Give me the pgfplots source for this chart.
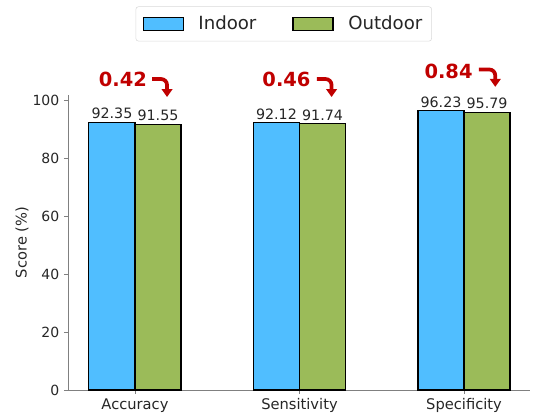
\documentclass[border=0pt]{standalone}
\usepackage{pgfplots}
\pgfplotsset{compat=1.18}
\usepackage{fontspec}
\setmainfont{DejaVu Sans}
\usetikzlibrary{arrows.meta}
\definecolor{indoor}{RGB}{80,190,255}
\definecolor{outdoor}{RGB}{155,187,89}
\definecolor{annot}{RGB}{192,0,0}
\definecolor{spine}{RGB}{128,128,128}
\begin{document}
\begin{tikzpicture}
\useasboundingbox (-51pt,-18pt) rectangle (348.75pt,292.5pt);
\begin{axis}[
  at={(0,0)}, anchor=south west,
  scale only axis, width=346.5pt, height=221.25pt,
  xmin=-0.407, xmax=2.401, ymin=0, ymax=101.7,
  axis lines*=left,
  axis line style={spine, line width=0.6pt},
  xtick={0,1,2}, xticklabels={Accuracy,Sensitivity,Specificity},
  ytick={0,20,40,60,80,100},
  tick align=outside, major tick length=3pt,
  tick style={spine, line width=0.6pt},
  /pgf/number format/assume math mode=true,
  ticklabel style={font=\fontsize{10.5}{12}\selectfont, text=black!85},
  xticklabel style={font=\fontsize{11}{13}\selectfont},
  ylabel={Score (\%)},
  ylabel style={font=\fontsize{11}{13}\selectfont, text=black!85, at={(axis description cs:-0.0995,0.5)}, anchor=center},
  ybar, bar width=0.28,
  nodes near coords={\pgfmathprintnumber[fixed,fixed zerofill,precision=2]{\pgfplotspointmeta}},
  every node near coord/.append style={font=\fontsize{10.7}{12}\selectfont, text=black!85, anchor=south, inner sep=2pt},
  legend columns=2,
  legend style={at={(axis description cs:0.467,1.241)}, anchor=center, draw=black!15, rounded corners=2pt,
    font=\fontsize{13.6}{16}\selectfont, text=black!85,
    /tikz/every odd column/.append style={column sep=9pt},
    /tikz/every even column/.append style={column sep=25pt}, inner xsep=5pt, inner ysep=5pt},
  clip=false,
]
\addplot[fill=indoor, draw=black, line width=0.9pt, bar shift=-0.14,
  legend image code/.code={\draw[fill=indoor, draw=black, line width=0.9pt, sharp corners] (0pt,-4.9pt) rectangle (30pt,4.9pt);}]
  coordinates {(0,92.35) (1,92.12) (2,96.23)};
\addlegendentry{Indoor}
\addplot[fill=outdoor, draw=black, line width=0.9pt, bar shift=0.14,
  legend image code/.code={\draw[fill=outdoor, draw=black, line width=0.9pt, sharp corners] (0pt,-4.9pt) rectangle (30pt,4.9pt);}]
  coordinates {(0,91.55) (1,91.74) (2,95.79)};
\addlegendentry{Outdoor}

\node[annot, font=\fontsize{14.6}{17}\bfseries] at (axis cs:-0.073,106.9) {0.42};
\draw[annot, line width=2.8pt, rounded corners=4.5pt, -{Triangle[width=8pt,length=6pt]}]
  (axis cs:0.105,107.2) -- (axis cs:0.195,107.2) -- (axis cs:0.195,101.0);
\node[annot, font=\fontsize{14.6}{17}\bfseries] at (axis cs:0.921,106.9) {0.46};
\draw[annot, line width=2.8pt, rounded corners=4.5pt, -{Triangle[width=8pt,length=6pt]}]
  (axis cs:1.105,107.2) -- (axis cs:1.195,107.2) -- (axis cs:1.195,101.0);
\node[annot, font=\fontsize{14.6}{17}\bfseries] at (axis cs:1.906,110.0) {0.84};
\draw[annot, line width=2.8pt, rounded corners=4.5pt, -{Triangle[width=8pt,length=6pt]}]
  (axis cs:2.09,110.5) -- (axis cs:2.19,110.5) -- (axis cs:2.19,104.5);
\end{axis}
\end{tikzpicture}
\end{document}
